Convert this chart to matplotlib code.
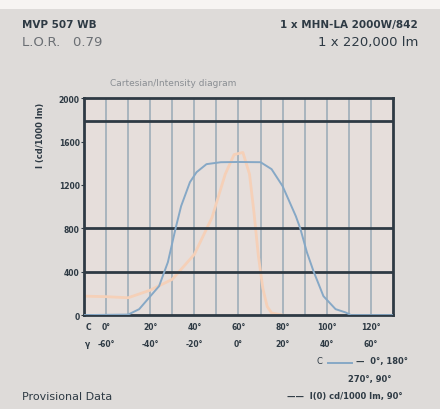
import numpy as np
import matplotlib.pyplot as plt
import matplotlib.patches as mpatches

ang_azul = [-70, -50, -45, -36, -32, -28.5, -26, -22, -19, -14.5, -8, 0, 10, 15, 20, 26, 28, 31, 34, 38.5, 44, 48.5, 51, 70]
val_azul = [0, 5, 55, 267, 488, 800, 1005, 1226, 1318, 1392, 1410, 1412, 1410, 1346, 1189, 912, 800, 580, 405, 175, 55, 25, 0, 0]

ang_naranja = [-70, -60, -50, -40, -30, -20, -12, -6, -2, 2, 5, 7, 9, 11, 13, 15, 20]
val_naranja = [175, 170, 160, 230, 330, 560, 900, 1300, 1480, 1500, 1300, 950, 550, 250, 80, 20, 0]

y_ticks = [0, 400, 800, 1200, 1600, 2000]
x_pos = [-60, -40, -20, 0, 20, 40, 60]
fila_c = ["0°", "20°", "40°", "60°", "80°", "100°", "120°"]
fila_g = ["-60°", "-40°", "-20°", "0°", "20°", "40°", "60°"]
lineas_h = [400, 800, 1790]

fondo = '#dedbd9'
oscuro = '#2e3a44'

fig = plt.figure(figsize=(4.4, 4.1), dpi=100, facecolor=fondo)
fig.patches.append(mpatches.Rectangle((0, 0.975), 1, 0.025, transform=fig.transFigure,
                                      facecolor='#f7f4f2', edgecolor='none'))

# Cabecera
fig.text(0.05, 0.94, "MVP 507 WB", fontsize=7.5, fontweight='bold', color=oscuro, va='center')
fig.text(0.05, 0.897, "L.O.R.   0.79", fontsize=9.5, color='#6b6f74', va='center')
fig.text(0.95, 0.94, "1 x MHN-LA 2000W/842", fontsize=7.5, fontweight='bold', color=oscuro, va='center', ha='right')
fig.text(0.95, 0.897, "1 x 220,000 lm", fontsize=9.5, color=oscuro, va='center', ha='right')
fig.text(0.25, 0.797, "Cartesian/Intensity diagram", fontsize=6.5, color='#8a8e93', va='center')
fig.text(0.093, 0.67, "I (cd/1000 lm)", fontsize=6, color=oscuro, rotation=90, va='center', ha='center',
         fontweight='bold')

ax = fig.add_axes([0.191, 0.229, 0.702, 0.529])
ax.set_facecolor('#e6dedb')
ax.set_xlim(-70, 70)
ax.set_ylim(0, 2000)

for xv in np.arange(-60, 70, 10):
    ax.axvline(xv, color='#a9b4be', lw=1.4, zorder=1)
for yv in lineas_h:
    ax.axhline(yv, color=oscuro, lw=2, zorder=3)

ax.plot(ang_naranja, val_naranja, color='#f5d0b8', lw=2.0, zorder=2)
ax.plot(ang_azul, val_azul, color='#86a8c6', lw=1.4, zorder=4)

for s in ax.spines.values():
    s.set_color(oscuro)
    s.set_linewidth(2)

ax.set_yticks(y_ticks)
ax.set_yticklabels([str(v) for v in y_ticks], fontsize=5.5, fontweight='bold', color=oscuro)
ax.tick_params(axis='y', length=2, pad=1, color=oscuro)
ax.set_xticks([])

# Dos filas de etiquetas bajo el eje x
tr = ax.get_xaxis_transform()
for xv, c, g in zip(x_pos, fila_c, fila_g):
    ax.text(xv, -0.03, c, transform=tr, fontsize=5.5, fontweight='bold', color=oscuro, ha='center', va='top')
    ax.text(xv, -0.11, g, transform=tr, fontsize=5.5, fontweight='bold', color=oscuro, ha='center', va='top')
ax.text(-69.5, -0.03, "C", transform=tr, fontsize=5.5, fontweight='bold', color=oscuro, ha='left', va='top')
ax.text(-69.5, -0.11, "γ", transform=tr, fontsize=5.5, fontweight='bold', color=oscuro, ha='left', va='top')

# Leyenda inferior
fig.text(0.72, 0.118, "C", fontsize=6, color=oscuro, va='center')
fig.lines.append(plt.Line2D([0.745, 0.80], [0.112, 0.112], transform=fig.transFigure, color='#86a8c6', lw=1.4))
fig.text(0.81, 0.118, "—  0°, 180°", fontsize=6, color=oscuro, va='center', fontweight='bold')
fig.text(0.89, 0.075, "270°, 90°", fontsize=6, color=oscuro, va='center', ha='right', fontweight='bold')
fig.text(0.915, 0.032, "——  I(0) cd/1000 lm, 90°", fontsize=6, color=oscuro, va='center', ha='right',
         fontweight='bold')
fig.text(0.05, 0.032, "Provisional Data", fontsize=8, color=oscuro, va='center')

fig.savefig("out.png", dpi=100, facecolor=fondo)
